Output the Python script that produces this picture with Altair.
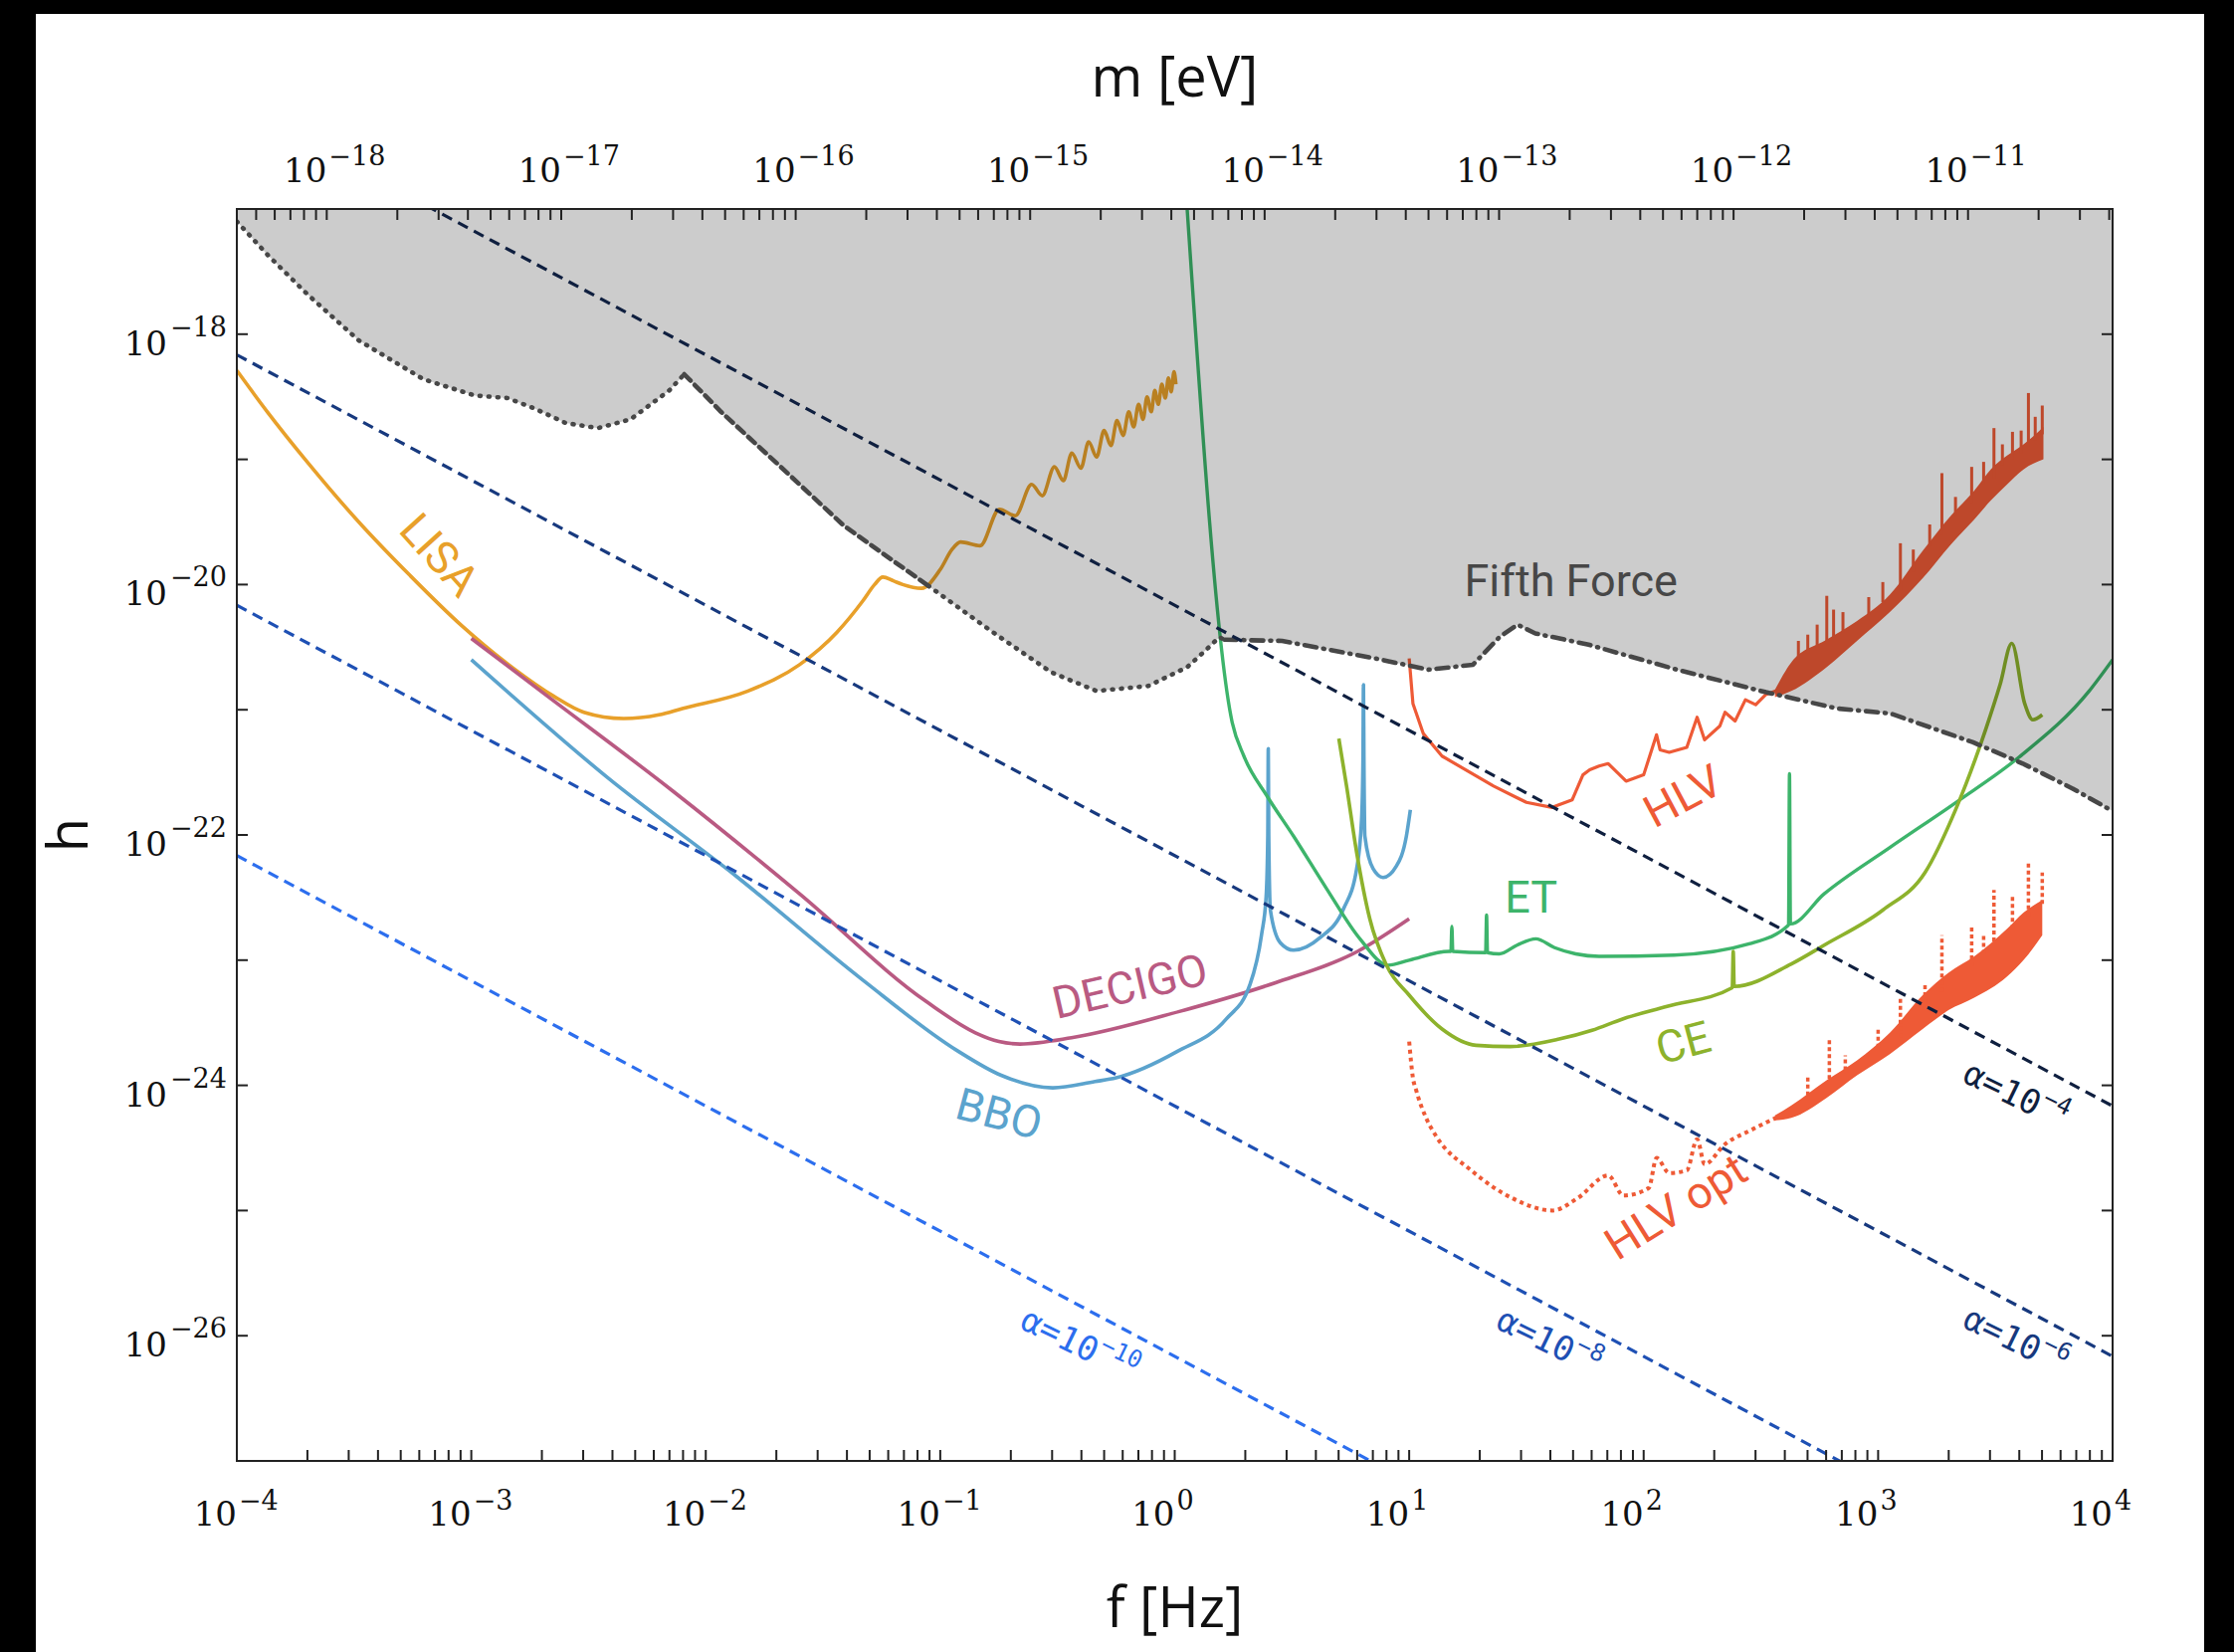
import math
import altair as alt
import pandas as pd

# Plot area size in pixels
W, H = 1885, 1258

# Axis domains (log10 units)
LOG_F_DOMAIN = [-4.0, 4.0]
LOG_H_DOMAIN = [-27.0, -17.0]
PLANCK_EV_S = 4.1357e-15  # m = h_planck * f
LOG_M_DOMAIN = [math.log10(PLANCK_EV_S) - 4.0, math.log10(PLANCK_EV_S) + 4.0]

# ---------------- sensitivity curves: log10 f [Hz], log10 h ----------------
LISA_LF = [-4.00, -3.87, -3.70, -3.48, -3.26, -3.04, -2.82, -2.65, -2.52, -2.35,
           -2.20, -2.10, -1.82, -1.60, -1.44, -1.33, -1.28, -1.245, -1.20, -1.16,
           -1.08, -1.00, -0.95, -0.913, -0.83, -0.748, -0.68, -0.61, -0.565, -0.513,
           -0.475, -0.439, -0.40, -0.367, -0.333, -0.301, -0.272, -0.246, -0.22, -0.196,
           -0.175, -0.154, -0.135, -0.118, -0.10, -0.085, -0.07, -0.055, -0.04, -0.027,
           -0.015, -0.003, 0.005]
LISA_LH = [-18.29, -18.62, -19.02, -19.50, -19.93, -20.33, -20.67, -20.89, -21.02, -21.07,
           -21.04, -20.99, -20.85, -20.64, -20.38, -20.13, -20.00, -19.94, -19.97, -20.00,
           -20.03, -19.88, -19.72, -19.66, -19.69, -19.40, -19.45, -19.20, -19.29, -19.06,
           -19.17, -18.95, -19.07, -18.86, -18.98, -18.77, -18.89, -18.69, -18.81, -18.62,
           -18.74, -18.56, -18.68, -18.50, -18.62, -18.45, -18.56, -18.40, -18.51, -18.35,
           -18.46, -18.30, -18.40]

DECIGO_LF = [-3.00, -2.69, -2.14, -1.60, -1.06, -0.85, -0.75, -0.66, -0.44, 0.02, 0.43, 0.78, 1.00]
DECIGO_LH = [-20.43, -20.87, -21.65, -22.47, -23.33, -23.58, -23.65, -23.67, -23.62, -23.41,
             -23.18, -22.93, -22.67]

BBO_LF = [-3.00, -2.42, -1.87, -1.33, -0.93, -0.74, -0.52, -0.34, -0.25, 0.01, 0.22, 0.32,
          0.37, 0.39, 0.397, 0.399, 0.401, 0.408, 0.45, 0.507, 0.62, 0.72, 0.776, 0.797,
          0.803, 0.805, 0.807, 0.811, 0.846, 0.889, 0.945, 0.988, 1.005]
BBO_LH = [-20.60, -21.54, -22.33, -23.16, -23.72, -23.92, -24.02, -23.97, -23.94, -23.73,
          -23.47, -23.20, -22.80, -22.49, -22.00, -21.31, -22.00, -22.60, -22.86, -22.92,
          -22.82, -22.59, -22.27, -21.88, -21.40, -20.80, -21.40, -22.01, -22.27, -22.34,
          -22.25, -22.01, -21.80]

ET_LF = [0.053, 0.245, 0.295, 0.394, 0.507, 0.648, 0.79, 0.91, 1.00, 1.17, 1.178, 1.182,
         1.186, 1.326, 1.33, 1.334, 1.384, 1.46, 1.54, 1.62, 1.71, 1.81, 2.13, 2.45, 2.618,
         2.622, 2.626, 2.77, 3.05, 3.34, 3.60, 3.90, 4.00]
ET_LH = [-17.00, -21.10, -21.37, -21.69, -22.01, -22.43, -22.83, -23.04, -23.00, -22.93,
         -22.93, -22.73, -22.93, -22.94, -22.64, -22.94, -22.95, -22.88, -22.83, -22.90,
         -22.95, -22.97, -22.96, -22.87, -22.72, -21.51, -22.71, -22.47, -22.10, -21.73,
         -21.38, -20.85, -20.60]

CE_LF = [0.70, 0.733, 0.776, 0.832, 0.903, 1.00, 1.14, 1.285, 1.43, 1.64, 1.78, 1.91, 2.10,
         2.378, 2.382, 2.386, 2.63, 2.77, 3.02, 3.20, 3.33, 3.46, 3.52, 3.57, 3.625, 3.66, 3.70]
CE_LH = [-21.23, -21.61, -22.14, -22.67, -23.04, -23.28, -23.55, -23.68, -23.69, -23.63,
         -23.56, -23.47, -23.37, -23.22, -22.93, -23.21, -23.03, -22.88, -22.60, -22.30,
         -21.80, -21.15, -20.80, -20.47, -20.95, -21.08, -21.04]

HLV_LF = [1.00, 1.016, 1.06, 1.14, 1.36, 1.50, 1.61, 1.695, 1.741, 1.77, 1.81, 1.849, 1.925,
          2.00, 2.055, 2.07, 2.109, 2.184, 2.228, 2.26, 2.325, 2.347, 2.39, 2.434, 2.478,
          2.52, 2.564]
HLV_LH = [-20.59, -20.95, -21.19, -21.37, -21.61, -21.74, -21.78, -21.72, -21.52, -21.48,
          -21.45, -21.43, -21.57, -21.52, -21.20, -21.32, -21.34, -21.30, -21.06, -21.24,
          -21.13, -21.02, -21.09, -20.92, -20.96, -20.88, -20.85]
# dense high-frequency part: lower / upper envelope
HLV_BAND_LF = [2.56, 2.63, 2.78, 2.91, 3.05, 3.19, 3.31, 3.41, 3.48, 3.55, 3.62, 3.705]
HLV_BAND_LO = [-20.90, -20.85, -20.66, -20.45, -20.22, -19.95, -19.68, -19.48, -19.33,
               -19.20, -19.08, -19.00]
HLV_BAND_HI = [-20.84, -20.62, -20.44, -20.29, -20.08, -19.73, -19.45, -19.25, -19.08,
               -18.97, -18.88, -18.74]
HLV_SPIKE_LF = [2.66, 2.70, 2.74, 2.781, 2.81, 2.85, 2.96, 3.02, 3.095, 3.15, 3.22, 3.272,
                3.33, 3.399, 3.45, 3.494, 3.53, 3.573, 3.61, 3.641, 3.67, 3.70]
HLV_SPIKE_BASE = [-20.60, -20.55, -20.50, -20.45, -20.42, -20.38, -20.24, -20.14, -20.05,
                  -19.90, -19.70, -19.60, -19.45, -19.35, -19.20, -19.15, -19.05, -19.00,
                  -18.95, -18.90, -18.85, -18.80]
HLV_SPIKE_TOP = [-20.45, -20.40, -20.32, -20.09, -20.20, -20.22, -20.10, -19.98, -19.67,
                 -19.72, -19.52, -19.11, -19.30, -19.06, -19.02, -18.75, -18.88, -18.78,
                 -18.77, -18.47, -18.66, -18.57]

HLVOPT_LF = [1.00, 1.016, 1.03, 1.072, 1.113, 1.265, 1.438, 1.611, 1.719, 1.849, 1.914,
             2.022, 2.055, 2.109, 2.184, 2.228, 2.26, 2.347, 2.455, 2.564]
HLVOPT_LH = [-23.65, -23.94, -24.04, -24.26, -24.40, -24.68, -24.90, -25.00, -24.90, -24.72,
             -24.88, -24.82, -24.58, -24.70, -24.68, -24.43, -24.63, -24.47, -24.36, -24.26]
HLVOPT_BAND_LF = [2.56, 2.63, 2.78, 2.91, 3.05, 3.19, 3.30, 3.41, 3.55, 3.62, 3.70]
HLVOPT_BAND_LO = [-24.28, -24.26, -24.10, -23.92, -23.75, -23.55, -23.40, -23.30, -23.13,
                  -23.00, -22.80]
HLVOPT_BAND_HI = [-24.24, -24.16, -23.96, -23.80, -23.58, -23.28, -23.10, -22.97, -22.75,
                  -22.62, -22.52]
HLVOPT_SPIKE_LF = [2.70, 2.792, 2.86, 3.00, 3.095, 3.20, 3.272, 3.399, 3.45, 3.494, 3.573,
                   3.641, 3.70]
HLVOPT_SPIKE_BASE = [-24.08, -23.95, -23.88, -23.70, -23.62, -23.40, -23.25, -23.05,
                     -22.95, -22.85, -22.75, -22.65, -22.55]
HLVOPT_SPIKE_TOP = [-23.92, -23.64, -23.76, -23.55, -23.30, -23.20, -22.80, -22.74,
                    -22.80, -22.44, -22.49, -22.21, -22.30]

# Fifth-force exclusion boundary
FF_LF = [-4.000, -3.867, -3.700, -3.480, -3.204, -2.985, -2.846, -2.735, -2.597, -2.459,
         -2.321, -2.156, -2.092, -1.935, -1.686, -1.411, -1.051, -0.776, -0.527, -0.334,
         -0.113, 0.053, 0.135, 0.190, 0.212, 0.458, 0.628, 0.855, 1.083, 1.272, 1.385,
         1.462, 1.538, 1.765, 2.143, 2.522, 2.825, 3.053, 3.405, 3.617, 3.830, 4.000]
FF_LH = [-17.10, -17.37, -17.68, -18.05, -18.36, -18.49, -18.51, -18.59, -18.71, -18.75,
         -18.68, -18.45, -18.32, -18.62, -19.05, -19.53, -20.01, -20.38, -20.70, -20.85,
         -20.81, -20.66, -20.52, -20.42, -20.44, -20.45, -20.51, -20.59, -20.68, -20.64,
         -20.42, -20.32, -20.39, -20.48, -20.68, -20.86, -20.99, -21.03, -21.26, -21.43,
         -21.63, -21.81]
# index ranges of the differently dashed pieces of the boundary
FF_PIECES = [(0, 13, [1, 8]), (12, 17, [9, 6]), (16, 25, [1, 8]), (24, 42, [12, 7, 1, 7])]

# Coupling lines h ~ alpha / f : log10 h at f = 1e-4 Hz and f = 1e4 Hz
ALPHA_EXP = ["\u22124", "\u22126", "\u22128", "\u221210"]
ALPHA_LH_LEFT = [-16.165, -18.165, -20.165, -22.165]
ALPHA_LH_RIGHT = [-24.165, -26.165, -28.165, -30.165]
ALPHA_COLORS = ["#0f1f3f", "#17397e", "#1e50b4", "#2c6eee"]
ALPHA_LABEL_LF = [3.63, 3.63, 1.64, -0.39]
ALPHA_LABEL_LH = [-24.13, -26.09, -26.10, -26.10]

# Curve labels
LISA_C, DECIGO_C, BBO_C = "#e8a02a", "#b95a82", "#5ba3cd"
ET_C, CE_C, HLV_C, FF_C = "#3db46b", "#8db22c", "#ee5a36", "#474747"
LABEL_TEXT = ["LISA", "DECIGO", "BBO", "ET", "CE", "HLV", "HLV opt", "Fifth Force"]
LABEL_LF = [-3.14, -0.19, -0.75, 1.52, 2.17, 2.17, 2.14, 1.69]
LABEL_LH = [-19.77, -23.22, -24.24, -22.51, -23.67, -21.70, -24.98, -19.98]
LABEL_ANGLE = [48, 347, 15, 0, 345, 332, 328, 0]
LABEL_COLOR = [LISA_C, DECIGO_C, BBO_C, ET_C, CE_C, HLV_C, HLV_C, FF_C]

# Axis ticks (log10 positions) and labelled decades
F_TICKS = [math.log10(d) + k for k in range(-4, 4) for d in range(1, 10)] + [4.0]
F_LABEL_EXPS = list(range(-4, 5))
M_TICKS = [math.log10(d) + k for k in range(-19, -10) for d in range(1, 10)]
M_TICKS = [t for t in M_TICKS if LOG_M_DOMAIN[0] <= t <= LOG_M_DOMAIN[1]]
M_LABEL_EXPS = list(range(-18, -10))
H_TICKS = list(range(-27, -16))
H_LABEL_EXPS = [-26, -24, -22, -20, -18]

LABEL_FONT = "Roboto, Liberation Sans, sans-serif"
TICK_FONT = "DejaVu Serif"
TITLE_FONT = "Open Sans"

XS = alt.Scale(domain=LOG_F_DOMAIN, nice=False, zero=False)
YS = alt.Scale(domain=LOG_H_DOMAIN, nice=False, zero=False)
MS = alt.Scale(domain=LOG_M_DOMAIN, nice=False, zero=False)


def sup(e):
    return ("\u2212" + str(-e)) if e < 0 else str(e)


def ex(field="lf"):
    return alt.X(f"{field}:Q", scale=XS, axis=None)


def ey(field="lh"):
    return alt.Y(f"{field}:Q", scale=YS, axis=None)


def curve(lf, lh, color, width=3.4, dash=None, interp="linear", cap="butt"):
    df = pd.DataFrame({"lf": lf, "lh": lh, "i": range(len(lf))})
    kw = dict(color=color, strokeWidth=width, clip=True, interpolate=interp,
              strokeJoin="round", strokeCap=cap)
    if dash:
        kw["strokeDash"] = dash
    return alt.Chart(df).mark_line(**kw).encode(x=ex(), y=ey(), order="i:Q")


def band(lf, lo, hi, color):
    df = pd.DataFrame({"lf": lf, "lo": lo, "hi": hi})
    return alt.Chart(df).mark_area(color=color, clip=True, interpolate="monotone").encode(
        x=ex(), y=ey("lo"), y2="hi:Q")


def spikes(lf, base, top, color, width=3, dash=None):
    df = pd.DataFrame({"lf": lf, "b": base, "t": top})
    kw = dict(color=color, strokeWidth=width, clip=True)
    if dash:
        kw["strokeDash"] = dash
    return alt.Chart(df).mark_rule(**kw).encode(x=ex(), y=ey("b"), y2="t:Q")


one = pd.DataFrame({"k": [0]})

# white page panel
panel = alt.Chart(one).mark_rect(color="white").encode(
    x=alt.value(-202), x2=alt.value(1977), y=alt.value(-196), y2=alt.value(1460))

layers = [panel]
layers += [
    curve(LISA_LF, LISA_LH, LISA_C, 3.6, interp="monotone"),
    curve(DECIGO_LF, DECIGO_LH, DECIGO_C, 3.6, interp="monotone"),
    curve(BBO_LF, BBO_LH, BBO_C, 3.6, interp="monotone"),
    curve(ET_LF, ET_LH, ET_C, 3.4, interp="monotone"),
    curve(CE_LF, CE_LH, CE_C, 3.6, interp="monotone"),
    curve(HLV_LF, HLV_LH, HLV_C, 3.2),
    band(HLV_BAND_LF, HLV_BAND_LO, HLV_BAND_HI, HLV_C),
    spikes(HLV_SPIKE_LF, HLV_SPIKE_BASE, HLV_SPIKE_TOP, HLV_C, 3),
    curve(HLVOPT_LF, HLVOPT_LH, HLV_C, 4.0, dash=[4, 4], interp="monotone"),
    band(HLVOPT_BAND_LF, HLVOPT_BAND_LO, HLVOPT_BAND_HI, HLV_C),
    spikes(HLVOPT_SPIKE_LF, HLVOPT_SPIKE_BASE, HLVOPT_SPIKE_TOP, HLV_C, 3.5, dash=[4, 3]),
]

# shaded fifth-force region above the boundary
ff_df = pd.DataFrame({"lf": FF_LF, "lh": FF_LH})
layers.append(alt.Chart(ff_df).mark_area(color="black", opacity=0.2, clip=True).encode(
    x=ex(), y=ey(), y2=alt.datum(-17.0)))
for a, b, dash in FF_PIECES:
    layers.append(curve(FF_LF[a:b], FF_LH[a:b], FF_C, 4.6, dash=dash, cap="round"))

# coupling lines
for left, right, col in zip(ALPHA_LH_LEFT, ALPHA_LH_RIGHT, ALPHA_COLORS):
    layers.append(curve([-4.0, 4.0], [left, right], col, 3.2, dash=[11, 7]))

# curve labels
lab_df = pd.DataFrame({"t": LABEL_TEXT, "lf": LABEL_LF, "lh": LABEL_LH,
                       "a": LABEL_ANGLE, "c": LABEL_COLOR})
layers.append(alt.Chart(lab_df).mark_text(font=LABEL_FONT, fontSize=45, align="center",
                                          baseline="middle").encode(
    x=ex(), y=ey(), text="t:N", angle=alt.Angle("a:Q", scale=None),
    color=alt.Color("c:N", scale=None)))

# coupling labels: "α=10" plus a raised exponent, rotated along the lines
alpha_df = pd.DataFrame({"e": ALPHA_EXP, "lf": ALPHA_LABEL_LF, "lh": ALPHA_LABEL_LH,
                         "c": ALPHA_COLORS})
layers.append(alt.Chart(alpha_df).mark_text(font="DejaVu Sans Mono", fontSize=34,
                                            align="right", baseline="middle",
                                            angle=26, dx=14, text="\u03b1=10").encode(
    x=ex(), y=ey(), color=alt.Color("c:N", scale=None)))
layers.append(alt.Chart(alpha_df).mark_text(font="DejaVu Sans Mono", fontSize=24,
                                            align="left", baseline="middle",
                                            angle=26, dx=15, dy=-12).encode(
    x=ex(), y=ey(), text="e:N", color=alt.Color("c:N", scale=None)))

# inward ticks: bottom, left, right
fdf = pd.DataFrame({"lf": F_TICKS})
layers.append(alt.Chart(fdf).mark_rule(color="#222", strokeWidth=2).encode(
    x=ex(), y=alt.value(H), y2=alt.value(H - 11)))
hdf = pd.DataFrame({"lh": H_TICKS})
layers.append(alt.Chart(hdf).mark_rule(color="#222", strokeWidth=2).encode(
    y=ey(), x=alt.value(0), x2=alt.value(11)))
layers.append(alt.Chart(hdf).mark_rule(color="#222", strokeWidth=2).encode(
    y=ey(), x=alt.value(W), x2=alt.value(W - 11)))

# bottom tick labels 10^k
fl = pd.DataFrame({"lf": F_LABEL_EXPS, "b": ["10"] * len(F_LABEL_EXPS),
                   "e": [sup(e) for e in F_LABEL_EXPS]})
layers.append(alt.Chart(fl).mark_text(font=TICK_FONT, fontSize=34, align="right",
                                      baseline="alphabetic", color="#111").encode(
    x=ex(), y=alt.value(H + 65), text="b:N"))
layers.append(alt.Chart(fl).mark_text(font=TICK_FONT, fontSize=27, align="left",
                                      baseline="alphabetic", dx=2, color="#111").encode(
    x=ex(), y=alt.value(H + 49), text="e:N"))

# left tick labels
hl = pd.DataFrame({"lh": H_LABEL_EXPS, "b": ["10"] * len(H_LABEL_EXPS),
                   "e": [sup(e) for e in H_LABEL_EXPS]})
layers.append(alt.Chart(hl).mark_text(font=TICK_FONT, fontSize=34, align="right",
                                      baseline="alphabetic", dy=21, color="#111").encode(
    y=ey(), x=alt.value(-70), text="b:N"))
layers.append(alt.Chart(hl).mark_text(font=TICK_FONT, fontSize=27, align="left",
                                      baseline="alphabetic", dy=2, color="#111").encode(
    y=ey(), x=alt.value(-67), text="e:N"))

# axis titles
titles = [("f [Hz]", W / 2, H + 167, 0), ("m [eV]", W / 2, -113, 0), ("h", -150, H / 2, 270)]
for txt, tx, ty, ang in titles:
    kw = dict(font=TITLE_FONT, fontSize=56, align="center", baseline="alphabetic",
              color="#111", text=txt)
    if ang:
        kw["angle"] = ang
    layers.append(alt.Chart(one).mark_text(**kw).encode(x=alt.value(tx), y=alt.value(ty)))

# frame
layers.append(alt.Chart(one).mark_rect(fillOpacity=0, stroke="#222", strokeWidth=2).encode(
    x=alt.value(0), x2=alt.value(W), y=alt.value(0), y2=alt.value(H)))

main = alt.layer(*layers)

# top axis: particle mass m = h_planck f
mdf = pd.DataFrame({"lm": M_TICKS})
ml = pd.DataFrame({"lm": M_LABEL_EXPS, "b": ["10"] * len(M_LABEL_EXPS),
                   "e": [sup(e) for e in M_LABEL_EXPS]})
mx = alt.X("lm:Q", scale=MS, axis=None)
top = alt.layer(
    alt.Chart(mdf).mark_rule(color="#222", strokeWidth=2).encode(
        x=mx, y=alt.value(0), y2=alt.value(11)),
    alt.Chart(ml).mark_text(font=TICK_FONT, fontSize=34, align="right",
                            baseline="alphabetic", color="#111").encode(
        x=mx, y=alt.value(-27), text="b:N"),
    alt.Chart(ml).mark_text(font=TICK_FONT, fontSize=27, align="left",
                            baseline="alphabetic", dx=2, color="#111").encode(
        x=mx, y=alt.value(-44), text="e:N"),
)

chart = alt.layer(main, top).resolve_scale(x="independent").properties(
    width=W, height=H,
    padding={"left": 238, "top": 210, "right": 122, "bottom": 192},
    autosize=alt.AutoSizeParams(type="none"),
    background="black",
).configure_view(stroke="transparent")

chart.save("out.html", embed_options={"renderer": "svg", "actions": False})
